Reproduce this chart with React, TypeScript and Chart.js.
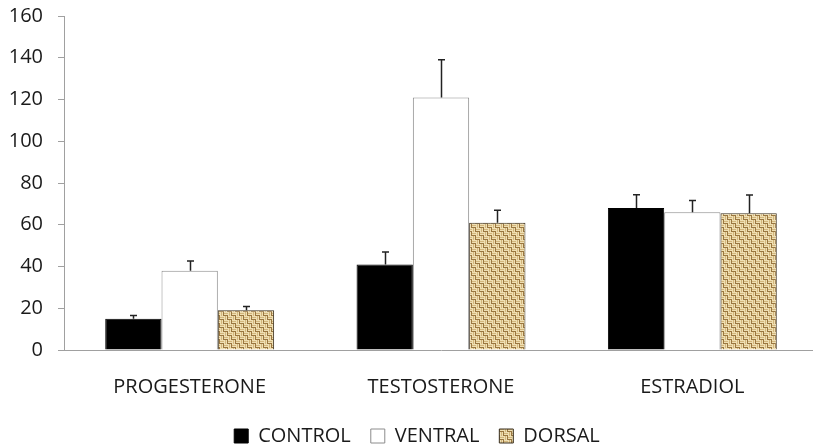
import React, { useEffect, useRef } from "react";
import { Chart, registerables } from "chart.js";

Chart.register(...registerables);

const categories = ["PROGESTERONE", "TESTOSTERONE", "ESTRADIOL"];
const seriesNames = ["CONTROL", "VENTRAL", "DORSAL"];
const controlValues = [15, 41, 68];
const ventralValues = [38, 121, 66];
const dorsalValues = [19, 61, 65.5];
const controlErrors = [1.5, 6, 6.4];
const ventralErrors = [4.6, 18, 5.6];
const dorsalErrors = [1.8, 6, 8.8];
const yTicksMin = 0;
const yTicksMax = 160;
const yTicksStep = 20;

const FONT = "'Open Sans', 'DejaVu Sans', sans-serif";
const CANVAS_W = 822;
const CANVAS_H = 456;

function makePattern(): CanvasPattern | string {
  const c = document.createElement("canvas");
  c.width = 8;
  c.height = 8;
  const g = c.getContext("2d");
  if (!g) return "#c9a96b";
  g.fillStyle = "#c2a066";
  g.fillRect(0, 0, 8, 8);
  const light = "#efdfb3";
  const mid = "#d3b67c";
  const dark = "#9a7740";
  for (let by = 0; by < 2; by++) {
    for (let bx = 0; bx < 2; bx++) {
      const ox = bx * 4;
      const oy = by * 4;
      const horiz = (bx + by) % 2 === 0;
      const cols = [light, mid, light, dark];
      for (let k = 0; k < 4; k++) {
        g.fillStyle = cols[k];
        if (horiz) g.fillRect(ox, oy + k, 4, 1);
        else g.fillRect(ox + k, oy, 1, 4);
      }
    }
  }
  const p = g.createPattern(c, "repeat");
  return p || "#c9a96b";
}

const errorBarPlugin = {
  id: "errorBars",
  afterLayout(chart: any) {
    if (chart.legend) {
      chart.legend.left += 8;
      chart.legend.right += 8;
    }
  },
  afterDatasetsDraw(chart: any) {
    const errs = [controlErrors, ventralErrors, dorsalErrors];
    const ctx = chart.ctx;
    const yScale = chart.scales.y;
    ctx.save();
    ctx.strokeStyle = "#222";
    ctx.lineWidth = 1.5;
    chart.data.datasets.forEach((ds: any, di: number) => {
      const meta = chart.getDatasetMeta(di);
      meta.data.forEach((bar: any, i: number) => {
        const v = ds.data[i];
        const top = yScale.getPixelForValue(v + errs[di][i]);
        const x = Math.round(bar.x) + 0.5;
        ctx.beginPath();
        ctx.moveTo(x, bar.y);
        ctx.lineTo(x, top);
        ctx.moveTo(x - 3.5, top);
        ctx.lineTo(x + 3.5, top);
        ctx.stroke();
      });
    });
    ctx.restore();
  },
};

export default function App() {
  const ref = useRef<HTMLCanvasElement | null>(null);
  useEffect(() => {
    if (!ref.current) return;
    const pattern = makePattern();
    const chart = new Chart(ref.current, {
      type: "bar",
      data: {
        labels: categories,
        datasets: [
          {
            label: seriesNames[0],
            data: controlValues,
            backgroundColor: "#000000",
            borderColor: "#000000",
            borderWidth: 1,
          },
          {
            label: seriesNames[1],
            data: ventralValues,
            backgroundColor: "#ffffff",
            borderColor: "#8c8c8c",
            borderWidth: 1,
          },
          {
            label: seriesNames[2],
            data: dorsalValues,
            backgroundColor: pattern as any,
            borderColor: "#3a3020",
            borderWidth: 1,
          },
        ],
      },
      options: {
        responsive: false,
        animation: false,
        devicePixelRatio: 1,
        layout: { padding: { top: 16, right: 4, left: 0, bottom: 0 } },
        datasets: {
          bar: { categoryPercentage: 0.672, barPercentage: 1 },
        },
        plugins: {
          tooltip: { enabled: false },
          legend: {
            position: "bottom",
            labels: {
              boxWidth: 14,
              boxHeight: 14,
              padding: 20,
              color: "#1a1a1a",
              font: { family: FONT, size: 20 },
            },
          },
        },
        scales: {
          x: {
            afterFit(scale: any) {
              scale.height = 56;
            },
            grid: {
              display: true,
              drawOnChartArea: false,
              drawTicks: false,
            },
            border: { display: true, color: "#a0a0a0", width: 1 },
            ticks: {
              padding: 25,
              color: "#1a1a1a",
              font: { family: FONT, size: 20 },
            },
          },
          y: {
            min: yTicksMin,
            max: yTicksMax,
            afterFit(scale: any) {
              scale.width = 64;
              scale.paddingTop = 0;
              scale.paddingBottom = 0;
            },
            grid: {
              display: true,
              drawOnChartArea: false,
              drawTicks: true,
              tickLength: 6,
              color: "#a0a0a0",
            },
            border: { display: true, color: "#a0a0a0", width: 1 },
            ticks: {
              stepSize: yTicksStep,
              padding: 15,
              color: "#1a1a1a",
              font: { family: FONT, size: 20 },
            },
          },
        },
      },
      plugins: [errorBarPlugin],
    });
    return () => chart.destroy();
  }, []);
  return (
    <div
      style={{
        position: "fixed",
        left: 0,
        top: 0,
        width: CANVAS_W,
        height: CANVAS_H,
        background: "#fff",
      }}
    >
      <canvas ref={ref} width={CANVAS_W} height={CANVAS_H} />
    </div>
  );
}
